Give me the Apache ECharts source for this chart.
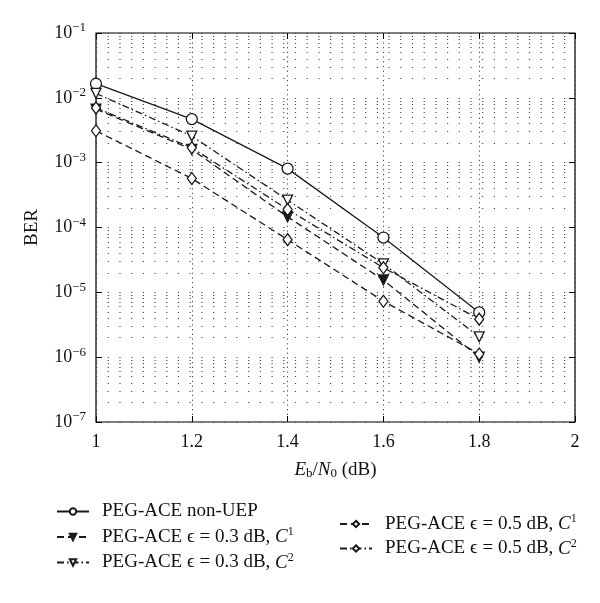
<!DOCTYPE html>
<html>
<head>
<meta charset="utf-8">
<script src="https://cdn.jsdelivr.net/npm/echarts@6/dist/echarts.min.js"></script>
<style>
  html, body { margin: 0; padding: 0; background: #fff; }
  #chart { width: 600px; height: 603px; }
</style>
</head>
<body>
<div id="chart"></div>
<script>
// Eb/N0 points (dB)
var ebn0 = [1.0, 1.2, 1.4, 1.6, 1.8];

// BER curves
var nonUEP  = [0.0165, 0.0047, 8.1e-4, 7.0e-5, 4.9e-6];
var eps03C1 = [0.0067, 0.0016, 1.46e-4, 1.55e-5, 1.0e-6];
var eps03C2 = [0.0117, 0.00257, 2.65e-4, 2.75e-5, 2.06e-6];
var eps05C1 = [0.0031, 5.7e-4, 6.5e-5, 7.3e-6, 1.12e-6];
var eps05C2 = [0.0070, 0.0017, 1.9e-4, 2.4e-5, 3.86e-6];

var seriesNames = [
  'PEG-ACE non-UEP',
  'PEG-ACE eps 0.3 C1',
  'PEG-ACE eps 0.3 C2',
  'PEG-ACE eps 0.5 C1',
  'PEG-ACE eps 0.5 C2'
];
var legendText = {
  'PEG-ACE non-UEP': '{n|PEG-ACE non-UEP}',
  'PEG-ACE eps 0.3 C1': '{n|PEG-ACE }{e|ϵ}{n| = 0.3 dB, }{i|C}{s|1}',
  'PEG-ACE eps 0.3 C2': '{n|PEG-ACE }{e|ϵ}{n| = 0.3 dB, }{i|C}{s|2}',
  'PEG-ACE eps 0.5 C1': '{n|PEG-ACE }{e|ϵ}{n| = 0.5 dB, }{i|C}{s|1}',
  'PEG-ACE eps 0.5 C2': '{n|PEG-ACE }{e|ϵ}{n| = 0.5 dB, }{i|C}{s|2}'
};

// minor grid at 2..9 x 10^k
var minorGrid = [];
for (var k = -7; k < -1; k++) {
  for (var m = 2; m <= 9; m++) minorGrid.push(m * Math.pow(10, k));
}

var font = '"Liberation Serif", "DejaVu Serif", serif';
var ink = '#1a1a1a';

function pairs(ys) {
  return ebn0.map(function (x, i) { return [x, ys[i]]; });
}

function curve(name, ys, symbol, size, dash, filled, rotate) {
  return {
    name: name,
    type: 'line',
    data: pairs(ys),
    symbol: symbol,
    symbolSize: size,
    symbolRotate: rotate || 0,
    showAllSymbol: true,
    lineStyle: { color: ink, width: 1.3, type: dash },
    itemStyle: { color: filled ? ink : '#fff', borderColor: ink, borderWidth: 1.3 },
    emphasis: { disabled: true },
    z: 5
  };
}

var richLegend = {
  n: { fontFamily: font, fontSize: 19, color: '#111' },
  e: { fontFamily: font, fontSize: 19, color: '#111' },
  i: { fontFamily: font, fontSize: 19, fontStyle: 'italic', color: '#111' },
  s: { fontFamily: font, fontSize: 12, color: '#111', padding: [0, 0, 10, 0] }
};

var myChart = echarts.init(document.getElementById('chart'));
myChart.setOption({
  animation: false,
  grid: { left: 96, right: 25, top: 33, height: 389, show: true, borderColor: '#000', borderWidth: 1.2 },
  legend: [
    {
      data: seriesNames.slice(0, 3),
      orient: 'vertical',
      left: 51, top: 497,
      itemWidth: 32, itemHeight: 8, itemGap: 5,
      formatter: function (n) { return legendText[n]; },
      textStyle: { rich: richLegend, padding: [0, 0, 0, 8] }
    },
    {
      data: seriesNames.slice(3),
      orient: 'vertical',
      left: 334, top: 508,
      itemWidth: 32, itemHeight: 8, itemGap: 4,
      formatter: function (n) { return legendText[n]; },
      textStyle: { rich: richLegend, padding: [0, 0, 0, 8] }
    }
  ],
  xAxis: [
    {
      type: 'value', min: 1, max: 2, interval: 0.2,
      name: '{i|E}{sub|b}{n|/}{i|N}{sub|0}{n| (dB)}',
      nameLocation: 'middle', nameGap: 38,
      nameTextStyle: {
        rich: {
          i: { fontFamily: font, fontSize: 19, fontStyle: 'italic', color: '#111' },
          n: { fontFamily: font, fontSize: 19, color: '#111' },
          sub: { fontFamily: font, fontSize: 13, color: '#111', padding: [7, 0, 0, 0] }
        }
      },
      axisLine: { show: false },
      axisTick: { inside: true, length: 6, lineStyle: { color: '#000' } },
      axisLabel: {
        fontFamily: font, fontSize: 18, color: '#111', margin: 11,
        formatter: function (v) { return String(Math.round(v * 10) / 10); }
      },
      splitLine: { show: true, lineStyle: { color: '#444', type: [1.2, 3.5], width: 1 } }
    },
    {
      type: 'value', min: 1, max: 2, interval: 0.2, position: 'top',
      axisLine: { show: false },
      axisTick: { inside: true, length: 6, lineStyle: { color: '#000' } },
      axisLabel: { show: false },
      splitLine: { show: false }
    }
  ],
  yAxis: [
    {
      type: 'log', logBase: 10, min: 1e-7, max: 1e-1,
      name: 'BER', nameLocation: 'middle', nameGap: 54,
      nameTextStyle: { fontFamily: font, fontSize: 19, color: '#111' },
      axisLine: { show: false },
      axisTick: { inside: true, length: 6, lineStyle: { color: '#000' } },
      axisLabel: {
        margin: 10,
        formatter: function (v) {
          return '{b|10}{s|−' + Math.abs(Math.round(Math.log10(v))) + '}';
        },
        rich: {
          b: { fontFamily: font, fontSize: 18, color: '#111' },
          s: { fontFamily: font, fontSize: 13, color: '#111', padding: [0, 0, 10, 0] }
        }
      },
      splitLine: { show: true, lineStyle: { color: '#444', type: [1.2, 10.5], width: 1 } }
    },
    {
      type: 'log', logBase: 10, min: 1e-7, max: 1e-1, position: 'right',
      axisLine: { show: false },
      axisTick: { inside: true, length: 6, lineStyle: { color: '#000' } },
      axisLabel: { show: false },
      splitLine: { show: false }
    }
  ],
  series: [
    curve(seriesNames[0], nonUEP, 'circle', 11, 'solid', false),
    curve(seriesNames[1], eps03C1, 'triangle', 10, [7, 4], true, 180),
    curve(seriesNames[2], eps03C2, 'triangle', 10, [7, 3, 1.5, 3], false, 180),
    curve(seriesNames[3], eps05C1, 'diamond', [9, 12], [7, 4], false),
    curve(seriesNames[4], eps05C2, 'diamond', [9, 12], [7, 3, 1.5, 3], false),
    {
      name: 'minor-grid',
      type: 'lines',
      coordinateSystem: 'cartesian2d',
      silent: true,
      polyline: false,
      lineStyle: { color: '#444', type: [1.2, 10.5], width: 1, opacity: 1 },
      data: minorGrid.map(function (v) { return { coords: [[1, v], [2, v]] }; }),
      z: 1
    }
  ]
});
</script>
</body>
</html>
